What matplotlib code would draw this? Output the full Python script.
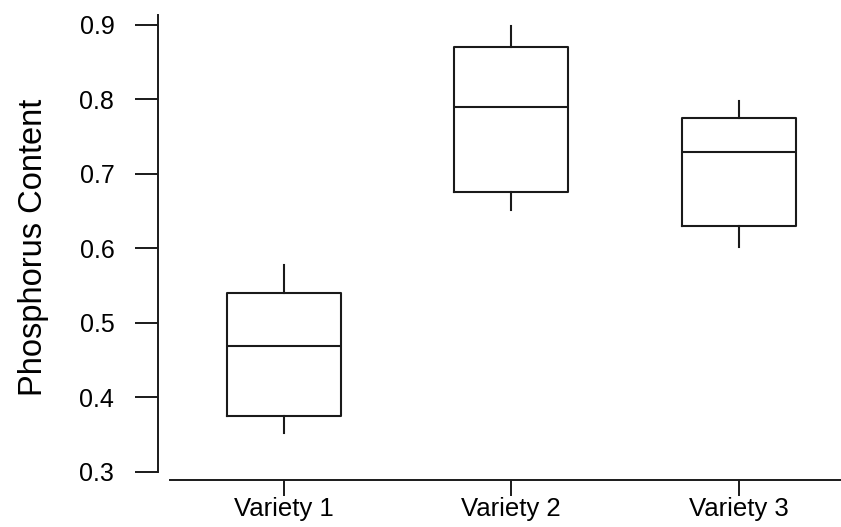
import matplotlib
matplotlib.use("Agg")
import matplotlib.pyplot as plt

# values
varieties = ["Variety 1", "Variety 2", "Variety 3"]
whisker_low = [0.352, 0.651, 0.601]
q1 = [0.375, 0.675, 0.630]
medians = [0.469, 0.789, 0.729]
q3 = [0.540, 0.870, 0.775]
whisker_high = [0.578, 0.898, 0.797]
yticks = [0.3, 0.4, 0.5, 0.6, 0.7, 0.8, 0.9]

plt.rcParams['font.family'] = ['Liberation Sans', 'DejaVu Sans']

fig = plt.figure(figsize=(8.41, 5.27), dpi=100)
W, H = 841, 527
# axes box in pixels: left 170, right 841, top 15, bottom 480
ax = fig.add_axes([170 / W, (H - 480) / H, (841 - 170) / W, (480 - 15) / H])

stats = []
for i, name in enumerate(varieties):
    stats.append({
        "label": name,
        "whislo": whisker_low[i],
        "q1": q1[i],
        "med": medians[i],
        "q3": q3[i],
        "whishi": whisker_high[i],
        "fliers": [],
    })

line = dict(color="#1a1a1a", linewidth=1.5)
ax.bxp(stats, positions=[1, 2, 3], widths=0.5, showcaps=False,
       showfliers=False, boxprops=line, whiskerprops=line,
       medianprops=line)

ax.set_xlim(0.5, 3.45)
ax.set_ylim(0.2889, 0.913)
ax.set_yticks(yticks)
ax.set_yticklabels(["%.1f" % t for t in yticks])

ax.spines["top"].set_visible(False)
ax.spines["right"].set_visible(False)
ax.spines["left"].set_position(("outward", 8.6))
ax.spines["left"].set_bounds(0.3, 0.913)
for s in ("left", "bottom"):
    ax.spines[s].set_color("#1a1a1a")
    ax.spines[s].set_linewidth(1.4)

ax.tick_params(axis="y", length=16.5, width=1.4, color="#1a1a1a",
               pad=15, labelsize=18)
ax.tick_params(axis="x", length=11.5, width=1.4, color="#1a1a1a",
               pad=1, labelsize=18.5)

ax.set_ylabel("Phosphorus Content", fontsize=23.5)
ax.yaxis.set_label_coords(-0.18, 0.5)

fig.savefig("out.png", dpi=100)
